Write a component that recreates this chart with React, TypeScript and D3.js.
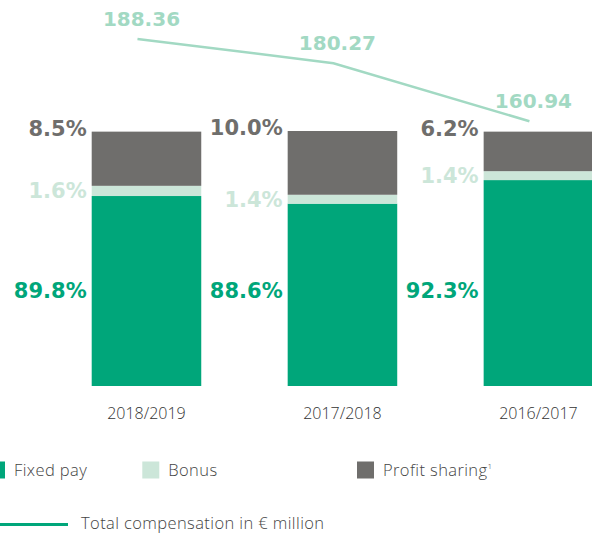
import { useEffect, useRef } from 'react';
import { line, scaleBand, scaleLinear, select, stack } from 'd3';

const categories = ['2018/2019', '2017/2018', '2016/2017'];
const fixedPay = [89.8, 88.6, 92.3];
const bonus = [1.6, 1.4, 1.4];
const profitSharing = [8.5, 10.0, 6.2];
const totalCompensation = [188.36, 180.27, 160.94];

const GREEN = '#00a67a';
const MINT = '#cce6d9';
const GREY = '#6f6e6c';
const LINE = '#a2d9c3';

export default function App() {
  const svgRef = useRef<SVGSVGElement>(null);

  useEffect(() => {
    const width = 592;
    const height = 533;
    const boldFont = '"DejaVu Sans", sans-serif';
    const lightFont = '"Open Sans", sans-serif';

    const rows = categories.map((c, i) => ({
      name: c,
      fixed: fixedPay[i],
      bonus: bonus[i],
      profit: profitSharing[i],
      total: totalCompensation[i],
    }));

    const svg = select(svgRef.current);
    svg.selectAll('*').remove();
    svg.attr('width', width).attr('height', height);

    // bar positions
    const x = scaleBand()
      .domain(categories)
      .range([91.7, 593.2])
      .paddingInner(0.441)
      .paddingOuter(0);

    // bars show the top part of a 100% stack (axis starts at 60%)
    const y = scaleLinear().domain([60, 100]).range([386, 131]).clamp(true);

    // total compensation line, own scale
    const yLine = scaleLinear().domain([150, 200]).range([154, 4]);

    const series = stack<any>().keys(['fixed', 'bonus', 'profit'])(rows);
    const colors: Record<string, string> = { fixed: GREEN, bonus: MINT, profit: GREY };

    series.forEach((s) => {
      svg
        .append('g')
        .selectAll('rect')
        .data(s)
        .enter()
        .append('rect')
        .attr('x', (d: any) => x(d.data.name)!)
        .attr('width', x.bandwidth())
        .attr('y', (d) => y(d[1]))
        .attr('height', (d) => y(d[0]) - y(d[1]))
        .attr('fill', colors[s.key]);
    });

    const [sFixed, sBonus, sProfit] = series;

    // fixed pay labels
    svg
      .append('g')
      .selectAll('text')
      .data(sFixed)
      .enter()
      .append('text')
      .attr('x', (d: any) => x(d.data.name)! - 5)
      .attr('y', y(75))
      .attr('dy', '0.36em')
      .attr('text-anchor', 'end')
      .attr('font-family', boldFont)
      .attr('font-weight', 700)
      .attr('font-size', 21)
      .attr('fill', GREEN)
      .text((d: any) => `${d.data.fixed.toFixed(1)}%`);

    // bonus labels
    svg
      .append('g')
      .selectAll('text')
      .data(sBonus)
      .enter()
      .append('text')
      .attr('x', (d: any) => x(d.data.name)! - 5)
      .attr('y', (d) => (y(d[0]) + y(d[1])) / 2)
      .attr('dy', '0.36em')
      .attr('text-anchor', 'end')
      .attr('font-family', boldFont)
      .attr('font-weight', 700)
      .attr('font-size', 21)
      .attr('fill', MINT)
      .text((d: any) => `${d.data.bonus.toFixed(1)}%`);

    // profit sharing labels
    svg
      .append('g')
      .selectAll('text')
      .data(sProfit)
      .enter()
      .append('text')
      .attr('x', (d: any) => x(d.data.name)! - 5)
      .attr('y', (d) => y(d[1]) + 4)
      .attr('text-anchor', 'end')
      .attr('font-family', boldFont)
      .attr('font-weight', 700)
      .attr('font-size', 21)
      .attr('fill', GREY)
      .text((d: any) => `${d.data.profit.toFixed(1)}%`);

    // category labels
    svg
      .append('g')
      .selectAll('text')
      .data(rows)
      .enter()
      .append('text')
      .attr('x', (d) => x(d.name)! + x.bandwidth() / 2)
      .attr('y', 419)
      .attr('text-anchor', 'middle')
      .attr('font-family', lightFont)
      .attr('font-weight', 300)
      .attr('font-size', 16)
      .attr('fill', '#333')
      .text((d) => d.name);

    // line
    const lx = (d: any) => x(d.name)! + x.bandwidth() / 2 - 9;
    svg
      .append('path')
      .datum(rows)
      .attr('fill', 'none')
      .attr('stroke', LINE)
      .attr('stroke-width', 2.5)
      .attr('d', line<any>().x(lx).y((d) => yLine(d.total)));

    svg
      .append('g')
      .selectAll('text')
      .data(rows)
      .enter()
      .append('text')
      .attr('x', (d) => lx(d) + 4)
      .attr('y', (d) => yLine(d.total) - 13)
      .attr('text-anchor', 'middle')
      .attr('font-family', boldFont)
      .attr('font-weight', 700)
      .attr('font-size', 20)
      .attr('fill', LINE)
      .text((d) => d.total.toFixed(2));

    // legend
    const legend = [
      { label: 'Fixed pay', color: GREEN, x: -12 },
      { label: 'Bonus', color: MINT, x: 142.3 },
      { label: 'Profit sharing', color: GREY, x: 357 },
    ];
    const lg = svg
      .append('g')
      .selectAll('g')
      .data(legend)
      .enter()
      .append('g')
      .attr('transform', (d) => `translate(${d.x}, 461.5)`);
    lg.append('rect').attr('width', 17).attr('height', 17).attr('fill', (d) => d.color);
    const lt = lg
      .append('text')
      .attr('x', 26)
      .attr('y', 14)
      .attr('font-family', lightFont)
      .attr('font-weight', 300)
      .attr('font-size', 16.5)
      .attr('letter-spacing', 0.4)
      .attr('fill', '#444')
      .text((d) => d.label);
    lt.filter((d) => d.label === 'Profit sharing')
      .append('tspan')
      .attr('font-size', 8)
      .attr('dy', -7)
      .text('1');

    svg
      .append('line')
      .attr('x1', 0)
      .attr('x2', 68)
      .attr('y1', 524.5)
      .attr('y2', 524.5)
      .attr('stroke', GREEN)
      .attr('stroke-width', 3);
    svg
      .append('text')
      .attr('x', 81)
      .attr('y', 528.5)
      .attr('font-family', lightFont)
      .attr('font-weight', 300)
      .attr('font-size', 16.5)
      .attr('letter-spacing', 0.4)
      .attr('fill', '#444')
      .text('Total compensation in € million');
  }, []);

  return (
    <div style={{ position: 'absolute', left: 0, top: 0 }}>
      <svg ref={svgRef}></svg>
    </div>
  );
}
